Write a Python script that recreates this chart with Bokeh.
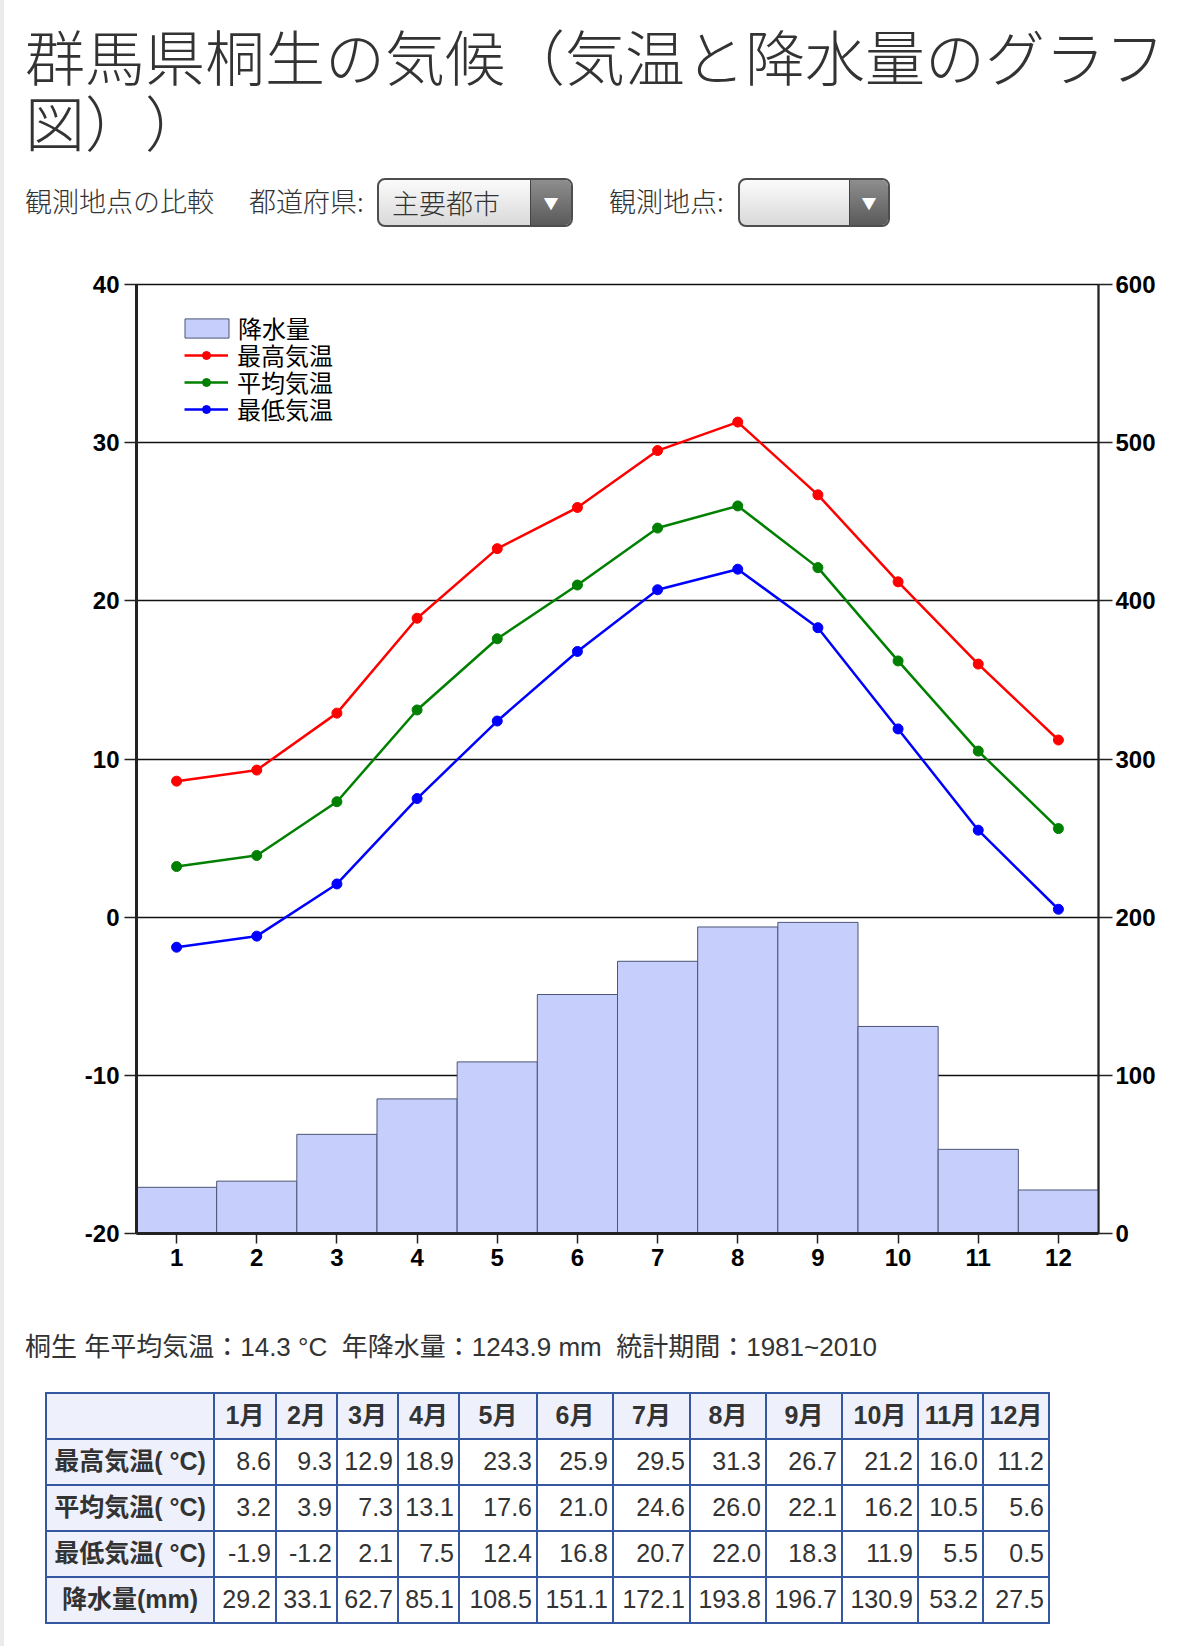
from bokeh.plotting import figure
from bokeh.models import (Range1d, LinearAxis, FixedTicker, Legend, LegendItem, Div,
                          PrintfTickFormatter)
from bokeh.layouts import column
from bokeh.embed import file_html
from bokeh.resources import INLINE

# Kiryu (Gunma) climate normals, 1981-2010
months = [1, 2, 3, 4, 5, 6, 7, 8, 9, 10, 11, 12]
month_labels = ["1月", "2月", "3月", "4月", "5月", "6月", "7月", "8月", "9月", "10月", "11月", "12月"]
temp_high = [8.6, 9.3, 12.9, 18.9, 23.3, 25.9, 29.5, 31.3, 26.7, 21.2, 16.0, 11.2]
temp_mean = [3.2, 3.9, 7.3, 13.1, 17.6, 21.0, 24.6, 26.0, 22.1, 16.2, 10.5, 5.6]
temp_low = [-1.9, -1.2, 2.1, 7.5, 12.4, 16.8, 20.7, 22.0, 18.3, 11.9, 5.5, 0.5]
precip = [29.2, 33.1, 62.7, 85.1, 108.5, 151.1, 172.1, 193.8, 196.7, 130.9, 53.2, 27.5]

temp_ticks = [-20, -10, 0, 10, 20, 30, 40]
precip_ticks = [0, 100, 200, 300, 400, 500, 600]

station = "桐生"
annual_mean = "14.3"
annual_precip = "1243.9"
period = "1981~2010"

JP = "Noto Sans CJK JP"
TICK_FONT = "Liberation Sans"
W = 1174  # page width minus the grey strip on the left

# ---------------- header ----------------
def dropdown(left, width, arrow_w, label):
    return f"""
    <div style="position:absolute;left:{left}px;top:178px;width:{width}px;height:49px;box-sizing:border-box;
                border:2px solid #4e4e4e;border-radius:8px;overflow:hidden;
                background:linear-gradient(#fbfbfb,#d9d9d9);">
      <div style="position:absolute;left:13px;top:0;height:45px;line-height:45px;font-size:27px;color:#333;">{label}</div>
      <div style="position:absolute;right:0;top:0;width:{arrow_w}px;height:45px;border-left:1px solid #444;
                  background:linear-gradient(#8e8e8e,#5a5a5a);color:#fff;font-size:15px;
                  text-align:center;line-height:45px;">&#9660;</div>
    </div>"""

header_html = f"""
<div style="position:relative;width:{W}px;height:250px;font-family:'{JP}';font-weight:300;color:#333;">
  <div style="position:absolute;left:21px;top:22px;font-size:60px;line-height:66px;white-space:nowrap;
              text-spacing-trim:space-all;">
    群馬県桐生の気候（気温と降水量のグラフ<br>図））</div>
  <div style="position:absolute;left:21px;top:176px;height:49px;line-height:49px;font-size:27px;">観測地点の比較</div>
  <div style="position:absolute;left:245px;top:176px;height:49px;line-height:49px;font-size:27px;">都道府県:</div>
  {dropdown(373, 196, 41, "主要都市")}
  <div style="position:absolute;left:605px;top:176px;height:49px;line-height:49px;font-size:27px;">観測地点:</div>
  {dropdown(734, 152, 39, "")}
</div>
"""
header = Div(text=header_html, width=W, height=250, margin=0)

# ---------------- chart ----------------
p = figure(width=W, height=1050, output_backend="svg", toolbar_location=None,
           x_range=Range1d(0.5, 12.5), y_range=Range1d(-20, 40),
           min_border_left=132, min_border_right=80, min_border_top=34, min_border_bottom=67,
           background_fill_color="white", border_fill_color="white")
p.extra_y_ranges = {"precip": Range1d(0, 600)}

p.outline_line_color = "#111"
p.outline_line_width = 1.5
p.xgrid.visible = False
p.ygrid.grid_line_color = "#111"
p.ygrid.grid_line_width = 1.5
p.ygrid.ticker = FixedTicker(ticks=temp_ticks)

label_kw = dict(major_label_text_font=TICK_FONT, major_label_text_font_style="bold",
                major_label_text_font_size="24px", major_label_text_color="#000")

for ax in (p.xaxis[0], p.yaxis[0]):
    ax.axis_line_width = 3
    ax.axis_line_color = "#222"
    ax.major_tick_in = 0
    ax.minor_tick_line_color = None
    ax.major_tick_line_color = "#222"
    ax.major_tick_line_width = 1.5
    for k, v in label_kw.items():
        setattr(ax, k, v)

p.xaxis.ticker = FixedTicker(ticks=months)
p.xaxis.major_tick_out = 10
p.xaxis.major_label_standoff = 5
p.yaxis.ticker = FixedTicker(ticks=temp_ticks)
p.yaxis.formatter = PrintfTickFormatter(format="%d")
p.yaxis.major_tick_out = 12
p.yaxis.major_label_standoff = 5

right = LinearAxis(y_range_name="precip", ticker=FixedTicker(ticks=precip_ticks),
                   formatter=PrintfTickFormatter(format="%d"),
                   axis_line_width=2, axis_line_color="#222", major_tick_in=0, major_tick_out=14,
                   major_tick_line_color="#222", major_tick_line_width=1.5,
                   minor_tick_line_color=None, major_label_standoff=3, **label_kw)
p.add_layout(right, "right")

bars = p.vbar(x=months, top=precip, bottom=0, width=1, y_range_name="precip",
              fill_color="#c6cffb", line_color="#4b5574", line_width=1)

series = [(temp_high, "#ff0000", "最高気温"),
          (temp_mean, "#008000", "平均気温"),
          (temp_low, "#0000ff", "最低気温")]
legend_rows = [("降水量", [bars])]
for vals, col, name in series:
    ln = p.line(months, vals, line_color=col, line_width=2.5)
    sc = p.scatter(months, vals, size=10, fill_color=col, line_color=col)
    legend_rows.append((name, [ln, sc]))

# one single-row legend per entry, stacked at a 27 px pitch
legend_kw = dict(orientation="vertical", padding=0, margin=0, spacing=0,
                 border_line_color=None, background_fill_alpha=0,
                 label_text_font=JP, label_text_font_size="24px", label_text_color="#000")
row_bottoms = [888, 861, 834, 807]
for i, ((name, rends), vy) in enumerate(zip(legend_rows, row_bottoms)):
    if i == 0:
        # the bar swatch is drawn inset by 10 %, so it gets a wider glyph box
        lg = Legend(items=[LegendItem(label=name, renderers=rends)], location=(43, vy),
                    glyph_width=55, glyph_height=24, label_height=24,
                    label_standoff=4, **legend_kw)
    else:
        lg = Legend(items=[LegendItem(label=name, renderers=rends)], location=(48, vy),
                    glyph_width=44, glyph_height=20, label_height=24,
                    label_standoff=9, **legend_kw)
    p.add_layout(lg, "center")

# ---------------- footer / table ----------------
def fmt(v):
    return f"{v:.1f}"

cell = "border:2px solid #3557a0;padding:0 4px;height:46px;"
col_widths = [168, 62, 61, 61, 61, 78, 76, 77, 76, 76, 76, 65, 66]
colgroup = "".join(f'<col style="width:{w}px">' for w in col_widths)
head = f'<th style="{cell}background:#eef0fc;"></th>' + "".join(
    f'<th style="{cell}background:#eef0fc;text-align:center;font-weight:bold;">{m}</th>' for m in month_labels)
rows_def = [("最高気温( °C)", temp_high), ("平均気温( °C)", temp_mean),
            ("最低気温( °C)", temp_low), ("降水量(mm)", precip)]
body = ""
for name, vals in rows_def:
    body += f'<tr><th style="{cell}background:#eef0fc;text-align:center;font-weight:bold;white-space:nowrap;">{name}</th>'
    body += "".join(f'<td style="{cell}background:#fff;text-align:right;">{fmt(v)}</td>' for v in vals)
    body += "</tr>"

footer_html = f"""
<div style="position:relative;width:{W}px;height:346px;font-family:'Liberation Sans','{JP}';color:#333;">
  <div style="position:absolute;left:21px;top:32px;font-size:26px;line-height:30px;white-space:nowrap;">
    {station} 年平均気温：{annual_mean} °C&nbsp;&nbsp;年降水量：{annual_precip} mm&nbsp;&nbsp;統計期間：{period}</div>
  <table style="position:absolute;left:41px;top:92px;border-collapse:collapse;table-layout:fixed;
                font-size:25px;color:#333;">
    <colgroup>{colgroup}</colgroup>
    <tr>{head}</tr>
    {body}
  </table>
</div>
"""
footer = Div(text=footer_html, width=W, height=346, margin=0)

page = column(header, p, footer, spacing=0)

html = file_html(page, INLINE)
page_css = ("<style>html,body{margin:0;padding:0;}"
            "body{padding-left:4px;background:linear-gradient(to right,#ebebeb 0,#ebebeb 4px,#fff 4px);}"
            "</style>")
html = html.replace("</head>", page_css + "</head>", 1)
open("out.html", "w").write(html)
